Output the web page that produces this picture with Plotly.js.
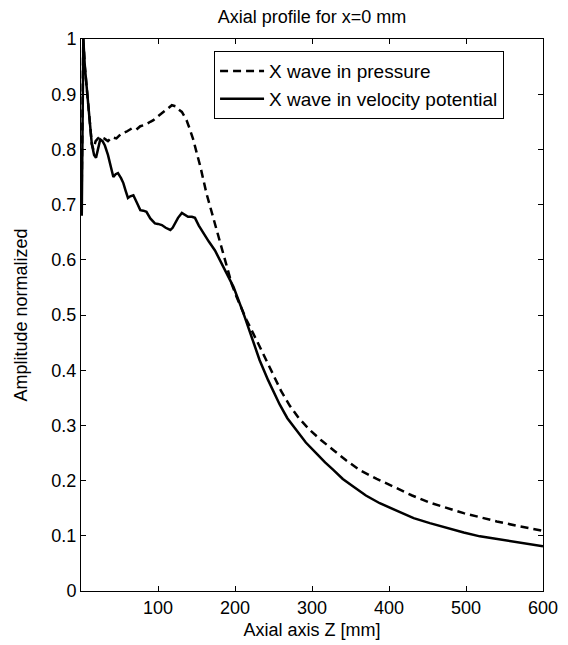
<!DOCTYPE html>
<html>
<head>
<meta charset="utf-8">
<script src="https://cdn.plot.ly/plotly-3.0.1.min.js"></script>
<style>html,body{margin:0;padding:0;background:#fff;}#chart{width:568px;height:645px;}</style>
</head>
<body>
<div id="chart"></div>
<script>
// Axial distance Z [mm] and normalized amplitude
var zPressure = [1,3,5,8,11,14,16,19,22,25,30,35,40,46,52,59,66,72,77,84,90,94,100,107,113,118,123,127,131,137,141,146,150,155,163,174,182,189,196,202,215,232,250,260,271,283,297,312,328,345,362,384,406,430,453,475,497,520,540,570,600];
var aPressure = [0.74,1.0,0.95,0.9,0.85,0.81,0.80,0.815,0.82,0.823,0.82,0.815,0.822,0.82,0.828,0.832,0.838,0.836,0.842,0.845,0.85,0.853,0.86,0.868,0.876,0.880,0.878,0.872,0.868,0.853,0.838,0.817,0.795,0.769,0.72,0.665,0.625,0.585,0.555,0.533,0.491,0.443,0.390,0.362,0.336,0.313,0.292,0.273,0.255,0.236,0.219,0.203,0.189,0.173,0.160,0.150,0.141,0.133,0.126,0.117,0.109];

var zVelocity = [1,3,5,8,11,14,17,19.5,22,25,28,31,35,38,42,45,48,52,55,58,61,64,68,72,77,81,85,90,96,100,105,110,116,119,122,126,131,135,139,144,148,153,159,166,174,185,198,211,222,232,243,250,258,268,280,292,306,317,328,340,354,370,388,410,432,453,475,497,518,540,562,580,600];
var aVelocity = [0.68,1.0,0.95,0.9,0.85,0.81,0.79,0.785,0.80,0.818,0.815,0.807,0.79,0.775,0.75,0.755,0.757,0.748,0.739,0.725,0.712,0.715,0.717,0.705,0.69,0.689,0.687,0.675,0.666,0.665,0.663,0.658,0.654,0.658,0.666,0.676,0.685,0.682,0.678,0.678,0.676,0.662,0.648,0.633,0.617,0.588,0.551,0.503,0.46,0.418,0.382,0.360,0.338,0.313,0.290,0.269,0.249,0.233,0.219,0.203,0.189,0.173,0.159,0.145,0.132,0.123,0.114,0.106,0.099,0.094,0.089,0.085,0.081];

var seriesNames = ['X wave in pressure', 'X wave in velocity potential'];
var xTicks = [100,200,300,400,500,600];
var yTicks = [0,0.1,0.2,0.3,0.4,0.5,0.6,0.7,0.8,0.9,1];

var traces = [
  {x: zPressure, y: aPressure, type: 'scatter', mode: 'lines', name: seriesNames[0],
   line: {color: '#000', width: 2.5, dash: '8px,5px'}},
  {x: zVelocity, y: aVelocity, type: 'scatter', mode: 'lines', name: seriesNames[1],
   line: {color: '#000', width: 2.5}}
];

var font = 'Arial, "Liberation Sans", sans-serif';
var layout = {
  width: 568, height: 645,
  margin: {l: 81, r: 25, t: 39, b: 54},
  paper_bgcolor: '#fff', plot_bgcolor: '#fff',
  font: {family: font, size: 18, color: '#000'},
  showlegend: true,
  title: {text: 'Axial profile for x=0 mm', font: {family: font, size: 18, color: '#000'},
          x: 0.5493, xanchor: 'center', y: 0.974, yanchor: 'middle', xref: 'container', yref: 'container'},
  xaxis: {range: [0, 600], tickvals: xTicks, ticks: 'inside', ticklen: 5, tickcolor: '#000',
          showline: true, linecolor: '#000', linewidth: 1, mirror: 'ticks', showgrid: false, zeroline: false,
          tickfont: {family: font, size: 18, color: '#000'},
          title: {text: 'Axial axis Z [mm]', font: {family: font, size: 18, color: '#000'}, standoff: 6}},
  yaxis: {range: [0, 1], tickvals: yTicks, ticks: 'inside', ticklen: 5, tickcolor: '#000',
          showline: true, linecolor: '#000', linewidth: 1, mirror: 'ticks', showgrid: false, zeroline: false,
          tickfont: {family: font, size: 18, color: '#000'},
          title: {text: 'Amplitude normalized', font: {family: font, size: 18, color: '#000'}, standoff: 19}},
  legend: {x: 0.288, y: 0.978, xanchor: 'left', yanchor: 'top', bgcolor: '#fff',
           bordercolor: '#000', borderwidth: 1, font: {family: font, size: 19, color: '#000'},
           tracegroupgap: 0, itemwidth: 44}
};

Plotly.newPlot('chart', traces, layout, {staticPlot: true, displayModeBar: false});
</script>
</body>
</html>
